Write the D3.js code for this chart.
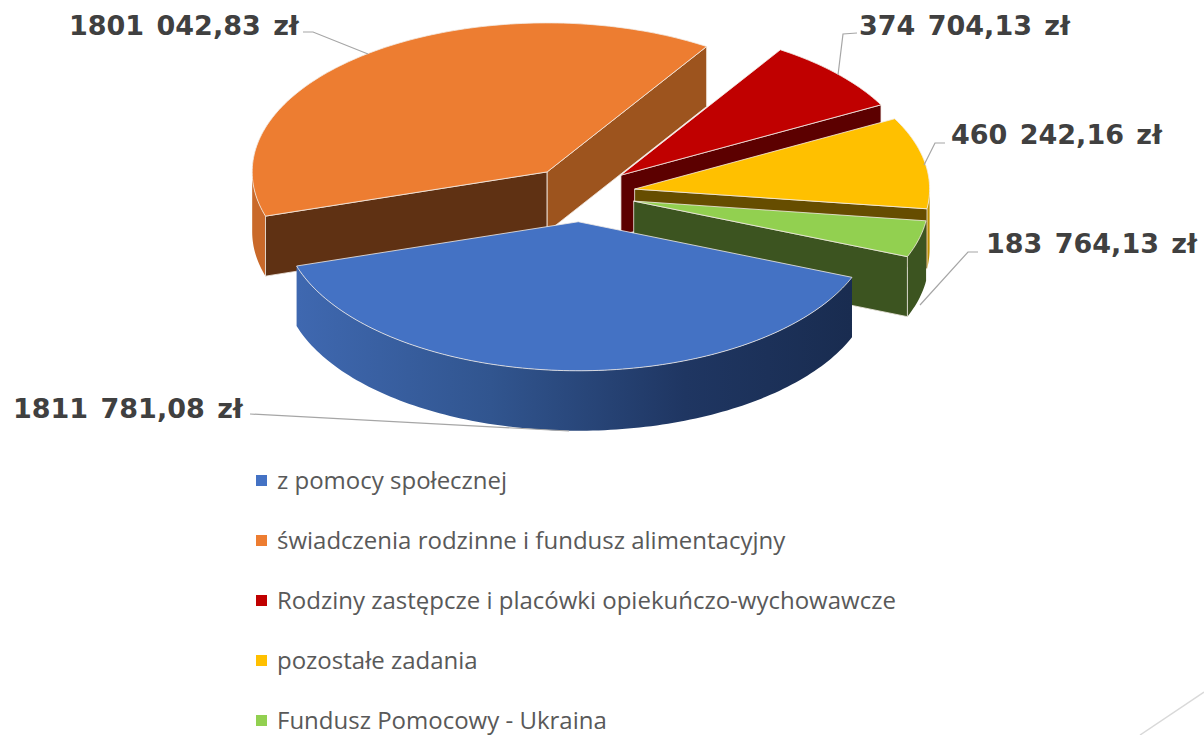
<!DOCTYPE html>
<html>
<head>
<meta charset="utf-8">
<script src="https://cdnjs.cloudflare.com/ajax/libs/d3/7.8.5/d3.min.js"></script>
<style>
html, body { margin: 0; padding: 0; background: #fff; }
svg { display: block; }
.etykieta { font-family: "DejaVu Sans", sans-serif; font-weight: bold; font-size: 27px; word-spacing: 3px; fill: #404040; }
.legenda { font-family: "Open Sans", sans-serif; font-size: 24px; fill: #595959; }
</style>
</head>
<body>
<svg width="1204" height="735"></svg>
<script>
const categories = [
    'z pomocy społecznej',
    'świadczenia rodzinne i fundusz alimentacyjny',
    'Rodziny zastępcze i placówki opiekuńczo-wychowawcze',
    'pozostałe zadania',
    'Fundusz Pomocowy - Ukraina'
];
const values = [1811781.08, 1801042.83, 374704.13, 460242.16, 183764.13];
const valueLabels = ['1811 781,08 zł', '1801 042,83 zł', '374 704,13 zł', '460 242,16 zł', '183 764,13 zł'];

const topColors = ['#4472c4', '#ed7d31', '#c00000', '#ffc000', '#92d050'];
const outerColors = ['url(#bokNiebieski)', '#c9692a', '#8f0000', '#bf9000', '#3c5420'];
const startWallColors = ['#000', '#5f3113', '#000', '#000', '#000'];
const endWallColors = ['#000', '#9d541e', '#5c0000', '#664d00', '#3c5420'];

// pozycje etykiet i linii odniesienia
const labelPos = [[13, 418], [69, 35], [859, 35], [951, 144], [986, 253]];
const leaders = [
    [[250, 414], [569, 431]],
    [[303, 32], [313, 32], [368, 54]],
    [[857, 33], [843, 34], [838, 75]],
    [[945, 143], [935, 143], [924, 165]],
    [[978, 252], [968, 252], [920, 305]]
];

const svg = d3.select('svg');

// parametry rzutu 3D
const cx = 580.5, cy = 194;
const radX = 295, radY = 149;
const explode = 55;
const depth = 60;
const startAngle = 111.9 * Math.PI / 180;

const pie = d3.pie().sort(null).startAngle(startAngle).endAngle(startAngle + 2 * Math.PI);
const slices = pie(values).map(s => {
    // kąty sprowadzone tak, żeby początek był w zakresie 0..2PI
    const shift = s.startAngle >= 2 * Math.PI ? 2 * Math.PI : 0;
    return { startAngle: s.startAngle - shift, endAngle: s.endAngle - shift };
});

function project(slice, theta, r, z) {
    const mid = (slice.startAngle + slice.endAngle) / 2;
    const ox = explode * Math.sin(mid) / radX;
    const oy = -explode * Math.cos(mid) / radX;
    const wx = ox + r * Math.sin(theta);
    const wy = oy - r * Math.cos(theta);
    return [cx + radX * wx, cy + radY * wy + z];
}

function arcPoints(slice, a0, a1, z) {
    const n = Math.max(2, Math.ceil((a1 - a0) / 0.02));
    return d3.range(n + 1).map(i => project(slice, a0 + (a1 - a0) * i / n, 1, z));
}

const line = d3.line();
const closed = pts => line(pts) + 'Z';

const grad = svg.append('defs').append('linearGradient')
    .attr('id', 'bokNiebieski')
    .attr('gradientUnits', 'userSpaceOnUse')
    .attr('x1', 297).attr('x2', 851).attr('y1', 0).attr('y2', 0);
grad.append('stop').attr('offset', '0').attr('stop-color', '#3f68b0');
grad.append('stop').attr('offset', '0.35').attr('stop-color', '#31558f');
grad.append('stop').attr('offset', '0.7').attr('stop-color', '#1f3662');
grad.append('stop').attr('offset', '1').attr('stop-color', '#192c50');

// linia dekoracyjna slajdu
svg.append('line')
    .attr('x1', 1140).attr('y1', 735).attr('x2', 1204).attr('y2', 692)
    .attr('stroke', '#d9d9d9').attr('stroke-width', 1.5);

// kolejność rysowania: od tyłu do przodu
const drawOrder = [1, 2, 3, 4, 0];
const edge = '#f2ece6';

drawOrder.forEach(i => {
    const s = slices[i];
    const g = svg.append('g').attr('class', 'wycinek');

    const wall = (theta, color) => {
        g.append('path')
            .attr('d', closed([
                project(s, 0, 0, 0),
                project(s, theta, 1, 0),
                project(s, theta, 1, depth),
                project(s, 0, 0, depth)
            ]))
            .attr('fill', color)
            .attr('stroke', edge).attr('stroke-width', 0.8);
    };

    // ścianka zewnętrzna, tylko część widoczna od przodu
    const a0 = Math.max(s.startAngle, Math.PI / 2);
    const a1 = Math.min(s.endAngle, 3 * Math.PI / 2);
    if (a1 > a0) {
        g.append('path')
            .attr('d', closed(arcPoints(s, a0, a1, 0).concat(arcPoints(s, a0, a1, depth).reverse())))
            .attr('fill', outerColors[i]);
    }

    if (Math.sin(s.startAngle) < 0) wall(s.startAngle, startWallColors[i]);
    if (Math.sin(s.endAngle) > 0) wall(s.endAngle, endWallColors[i]);

    // wierzch wycinka
    g.append('path')
        .attr('d', closed([project(s, 0, 0, 0)].concat(arcPoints(s, s.startAngle, s.endAngle, 0))))
        .attr('fill', topColors[i])
        .attr('stroke', edge).attr('stroke-width', 0.8);
});

// linie odniesienia
svg.selectAll('.linia-odniesienia')
    .data(leaders)
    .enter()
    .append('path')
    .attr('class', 'linia-odniesienia')
    .attr('d', d => line(d))
    .attr('fill', 'none')
    .attr('stroke', '#a6a6a6')
    .attr('stroke-width', 1.2);

// etykiety wartości
svg.selectAll('.etykieta')
    .data(valueLabels)
    .enter()
    .append('text')
    .attr('class', 'etykieta')
    .attr('x', (d, i) => labelPos[i][0])
    .attr('y', (d, i) => labelPos[i][1])
    .text(d => d);

// legenda
const legendY = d3.scalePoint()
    .domain(categories)
    .range([481, 721]);

svg.selectAll('.znacznik')
    .data(categories)
    .enter()
    .append('rect')
    .attr('class', 'znacznik')
    .attr('x', 256)
    .attr('y', d => legendY(d) - 6)
    .attr('width', 11)
    .attr('height', 11)
    .attr('fill', (d, i) => topColors[i]);

svg.selectAll('.legenda')
    .data(categories)
    .enter()
    .append('text')
    .attr('class', 'legenda')
    .attr('x', 277)
    .attr('y', d => legendY(d) + 8)
    .text(d => d);
</script>
</body>
</html>
